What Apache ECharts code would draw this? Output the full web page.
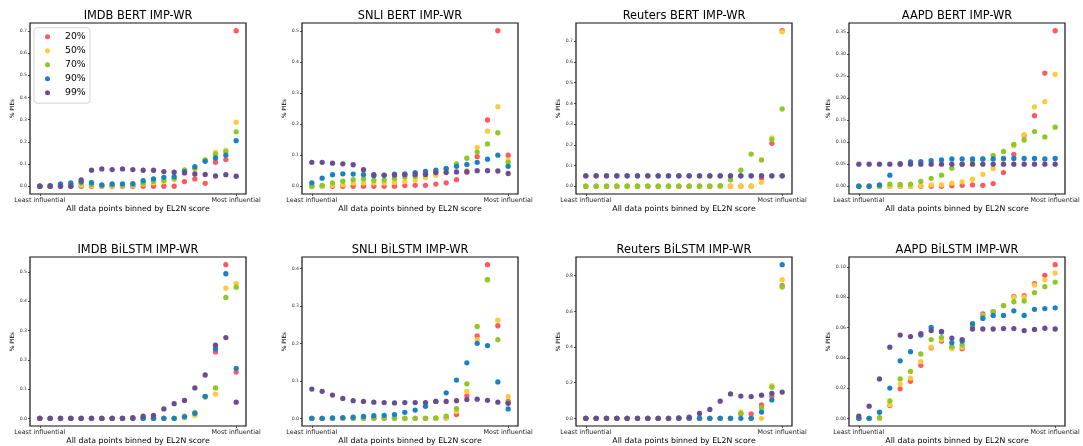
<!DOCTYPE html>
<html>
<head>
<meta charset="utf-8">
<script src="https://cdn.jsdelivr.net/npm/echarts@6/dist/echarts.min.js"></script>
<style>
html,body{margin:0;padding:0;background:#fff;}
#chart{width:1083px;height:446px;}
</style>
</head>
<body>
<div id="chart"></div>
<script>
// ---------- data ----------
const seriesNames = ['20%', '50%', '70%', '90%', '99%'];
const colors = ['#FF595E', '#FFCA3A', '#8AC926', '#1982C4', '#6A4C93'];
const xTickLabels = ['Least influential', 'Most influential'];
const xTickPositions = [0, 19];
const titles = ['IMDB BERT IMP-WR', 'SNLI BERT IMP-WR', 'Reuters BERT IMP-WR', 'AAPD BERT IMP-WR',
  'IMDB BiLSTM IMP-WR', 'SNLI BiLSTM IMP-WR', 'Reuters BiLSTM IMP-WR', 'AAPD BiLSTM IMP-WR'];

// each panel: [20%, 50%, 70%, 90%, 99%], 20 bins (least -> most influential)
const imdbBert = [
  [0,0,0,0,0,0,0,0,0,0,0,0,0,0,0.021,0.033,0.013,0.108,0.120,0.700],
  [0,0,0.003,0.003,0.005,0.003,0.002,0.002,0.002,0.003,0.010,0.015,0.020,0.030,0.070,0.075,0.118,0.152,0.163,0.288],
  [0,0,0.005,0.008,0.015,0.008,0.004,0.005,0.005,0.006,0.015,0.022,0.027,0.036,0.074,0.082,0.118,0.145,0.156,0.245],
  [0,0.003,0.011,0.015,0.020,0.016,0.006,0.010,0.011,0.012,0.025,0.033,0.040,0.043,0.066,0.088,0.112,0.127,0.140,0.205],
  [0,0,0,0,0.028,0.072,0.078,0.075,0.078,0.075,0.072,0.072,0.066,0.063,0.060,0.055,0.053,0.046,0.052,0.045]
];
const snliBert = [
  [0,0,0,0,0,0,0,0,0,0.002,0.003,0.003,0.007,0.011,0.021,0.045,0.095,0.213,0.500,0.100],
  [0,0,0.003,0.005,0.010,0.010,0.010,0.010,0.012,0.015,0.020,0.028,0.035,0.047,0.068,0.050,0.125,0.177,0.256,0.083],
  [0,0.003,0.011,0.016,0.021,0.023,0.019,0.020,0.025,0.030,0.032,0.038,0.045,0.056,0.072,0.090,0.110,0.136,0.172,0.077],
  [0.011,0.026,0.037,0.040,0.039,0.037,0.034,0.035,0.039,0.040,0.044,0.048,0.052,0.057,0.064,0.070,0.077,0.087,0.100,0.064],
  [0.077,0.077,0.074,0.072,0.069,0.053,0.037,0.036,0.036,0.037,0.038,0.038,0.044,0.044,0.046,0.047,0.050,0.050,0.049,0.041]
];
const reutersBert = [
  [0,0,0,0,0,0,0,0,0,0,0,0,0,0,0,0,0,0.040,0.207,0.750],
  [0,0,0,0,0,0,0,0,0,0,0,0,0,0,0,0,0,0.019,0.233,0.745],
  [0,0,0,0,0,0,0,0,0,0,0,0,0,0.003,0.031,0.077,0.155,0.127,0.225,0.373],
  [0.05,0.05,0.05,0.05,0.05,0.05,0.05,0.05,0.05,0.05,0.05,0.05,0.05,0.05,0.05,0.05,0.05,0.05,0.05,0.05],
  [0.05,0.05,0.05,0.05,0.05,0.05,0.05,0.05,0.05,0.05,0.05,0.05,0.05,0.05,0.05,0.05,0.05,0.05,0.05,0.05]
];
const aapdBert = [
  [0,0,0,0,0,0,0,0,0,0.001,0.002,0.003,0.002,0.006,0.031,0.072,0.115,0.160,0.257,0.353],
  [0,0,0,0,0,0,0.001,0.003,0.003,0.007,0.010,0.016,0.027,0.040,0.062,0.092,0.117,0.180,0.192,0.254],
  [0,0,0,0.005,0.004,0.005,0.011,0.018,0.025,0.041,0.050,0.058,0.062,0.070,0.079,0.095,0.105,0.124,0.112,0.134],
  [0,0,0.003,0.025,0.051,0.055,0.056,0.058,0.060,0.062,0.062,0.062,0.062,0.062,0.063,0.063,0.063,0.063,0.062,0.063],
  [0.05,0.05,0.05,0.05,0.05,0.05,0.05,0.05,0.05,0.05,0.05,0.05,0.05,0.05,0.05,0.05,0.05,0.05,0.05,0.05]
];
const imdbLstm = [
  [0,0,0,0,0,0,0,0,0,0,0,0,0,0,0.003,0.015,0.073,0.227,0.525,0.158],
  [0,0,0,0,0,0,0,0,0,0,0,0,0,0,0.002,0.010,0.074,0.083,0.445,0.460],
  [0,0,0,0,0,0,0,0,0,0,0,0,0,0,0.007,0.020,0.074,0.104,0.413,0.448],
  [0,0,0,0,0,0,0,0,0,0,0,0,0,0,0.005,0.017,0.075,0.237,0.494,0.171],
  [0,0,0,0,0,0,0,0,0,0.002,0.007,0.010,0.032,0.050,0.061,0.104,0.148,0.250,0.276,0.055]
];
const snliLstm = [
  [0,0,0,0,0,0,0,0,0,0,0,0,0,0.001,0.010,0.060,0.220,0.410,0.247,0.045],
  [0,0,0,0,0,0,0,0,0,0,0,0,0,0.002,0.018,0.072,0.210,0.370,0.262,0.058],
  [0,0,0,0,0,0,0,0,0,0,0,0,0.001,0.006,0.026,0.092,0.245,0.370,0.210,0.042],
  [0,0,0.001,0.002,0.003,0.005,0.007,0.008,0.010,0.016,0.022,0.032,0.045,0.068,0.102,0.148,0.200,0.194,0.097,0.025],
  [0.078,0.072,0.062,0.053,0.047,0.045,0.043,0.042,0.041,0.042,0.042,0.042,0.045,0.045,0.047,0.050,0.051,0.048,0.043,0.040]
];
const reutersLstm = [
  [0,0,0,0,0,0,0,0,0,0,0,0,0,0,0,0.025,0.025,0.075,0.125,0.745],
  [0,0,0,0,0,0,0,0,0,0,0,0,0,0,0,0.036,0,0,0.183,0.778],
  [0,0,0,0,0,0,0,0,0,0,0,0,0,0,0,0.028,0,0.058,0.175,0.737],
  [0,0,0,0,0,0,0,0,0,0,0,0,0,0,0,0,0,0.035,0.103,0.862],
  [0,0,0,0,0,0,0,0,0,0.003,0.007,0.027,0.050,0.096,0.137,0.125,0.122,0.130,0.140,0.147]
];
const aapdLstm = [
  [0,0,0,0.0085,0.0195,0.0245,0.035,0.0465,0.051,0.0465,0.046,0.060,0.069,0.0705,0.0745,0.0805,0.081,0.089,0.0945,0.1015],
  [0,0,0,0.009,0.0225,0.0265,0.0375,0.047,0.052,0.046,0.047,0.061,0.068,0.0705,0.0745,0.080,0.080,0.088,0.0915,0.096],
  [0,0,0.0005,0.0115,0.026,0.031,0.0425,0.052,0.0535,0.0475,0.0485,0.061,0.0675,0.0705,0.0745,0.077,0.0775,0.083,0.087,0.090],
  [0,0,0.004,0.020,0.038,0.044,0.055,0.060,0.057,0.050,0.051,0.0625,0.066,0.068,0.068,0.071,0.068,0.072,0.0725,0.073],
  [0.0015,0.008,0.026,0.047,0.055,0.054,0.056,0.058,0.0575,0.053,0.052,0.059,0.059,0.059,0.0593,0.0593,0.058,0.0587,0.0595,0.059]
];

// y tick values per panel
const yTicks = [
  [0,0.1,0.2,0.3,0.4,0.5,0.6,0.7],
  [0,0.1,0.2,0.3,0.4,0.5],
  [0,0.1,0.2,0.3,0.4,0.5,0.6,0.7],
  [0,0.05,0.10,0.15,0.20,0.25,0.30,0.35],
  [0,0.1,0.2,0.3,0.4,0.5],
  [0,0.1,0.2,0.3,0.4],
  [0,0.2,0.4,0.6,0.8],
  [0,0.02,0.04,0.06,0.08,0.10]
];
const yDecimals = [1,1,1,2,1,1,1,2];

const panels = [imdbBert, snliBert, reutersBert, aapdBert, imdbLstm, snliLstm, reutersLstm, aapdLstm];

// ---------- layout ----------
const colLeft = [30, 302, 576, 849];
const rowTop = [23, 257];
const gridW = 216, gridH = 171;

const grids = [], xAxes = [], yAxes = [], series = [], titleArr = [];
panels.forEach((p, k) => {
  const r = Math.floor(k / 4), c = k % 4;
  grids.push({
    left: colLeft[c], top: rowTop[r], width: gridW, height: gridH,
    show: true, borderColor: '#111', borderWidth: 1.2, backgroundColor: 'transparent'
  });
  titleArr.push({
    text: titles[k],
    left: colLeft[c] + gridW / 2,
    top: rowTop[r] - 13,
    textAlign: 'center',
    padding: 0,
    textStyle: { fontFamily: 'DejaVu Sans', fontSize: 11.4, fontWeight: 'normal', color: '#000', lineHeight: 12 }
  });
  xAxes.push({
    type: 'value', gridIndex: k, min: -0.95, max: 19.95,
    name: 'All data points binned by EL2N score',
    nameLocation: 'middle', nameGap: 11,
    nameTextStyle: { fontFamily: 'DejaVu Sans', fontSize: 7.8, color: '#000' },
    axisLine: { show: false, onZero: false },
    splitLine: { show: false },
    axisTick: { show: true, inside: false, length: 2, customValues: xTickPositions, lineStyle: { color: '#222', width: 0.8 } },
    axisLabel: {
      show: true, margin: 3, customValues: xTickPositions,
      fontFamily: 'DejaVu Sans', fontSize: 6.4, color: '#222',
      formatter: v => xTickLabels[xTickPositions.indexOf(Math.round(v))] || ''
    }
  });
  const dec = yDecimals[k];
  yAxes.push({
    type: 'value', gridIndex: k,
    min: v => v.min - 0.05 * (v.max - v.min),
    max: v => v.max + 0.05 * (v.max - v.min),
    name: '% PIEs', nameLocation: 'middle', nameGap: dec === 2 ? 17 : 13,
    nameTextStyle: { fontFamily: 'DejaVu Sans', fontSize: 5.8, color: '#000' },
    axisLine: { show: false, onZero: false },
    splitLine: { show: false },
    axisTick: { show: true, inside: false, length: 2, customValues: yTicks[k], lineStyle: { color: '#222', width: 0.8 } },
    axisLabel: {
      show: true, margin: 3, customValues: yTicks[k],
      fontFamily: 'DejaVu Sans', fontSize: 4.6, color: '#333',
      formatter: v => Number(v).toFixed(dec)
    }
  });
  p.forEach((vals, s) => {
    series.push({
      type: 'scatter', name: seriesNames[s], xAxisIndex: k, yAxisIndex: k,
      symbol: 'circle', symbolSize: 5.3,
      itemStyle: { color: colors[s], opacity: 1 },
      emphasis: { disabled: true },
      data: vals.map((v, i) => [i, v]),
      z: 2 + s
    });
  });
});

const chart = echarts.init(document.getElementById('chart'), null, { renderer: 'canvas' });
chart.setOption({
  animation: false,
  backgroundColor: '#fff',
  title: titleArr,
  grid: grids,
  xAxis: xAxes,
  yAxis: yAxes,
  legend: {
    data: seriesNames,
    orient: 'vertical',
    left: 34, top: 27.7,
    icon: 'circle',
    itemWidth: 5, itemHeight: 5, itemGap: 4,
    padding: [4, 4.3, 5.5, 11],
    backgroundColor: 'rgba(255,255,255,0.85)',
    borderColor: '#d4d4d4', borderWidth: 1, borderRadius: 3,
    textStyle: { fontFamily: 'DejaVu Sans', fontSize: 9.3, color: '#000', lineHeight: 10, padding: [0, 0, 0, 10] },
    selectedMode: false
  },
  series: series
});
</script>
</body>
</html>
